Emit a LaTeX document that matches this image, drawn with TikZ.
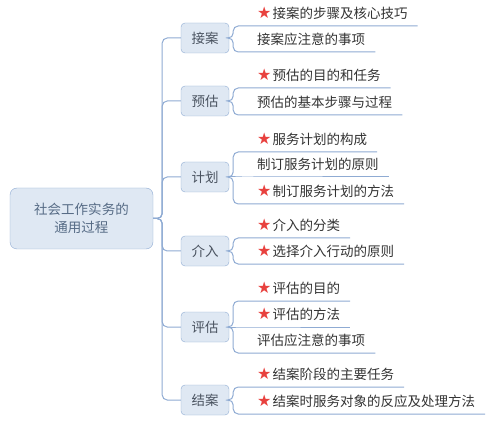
\documentclass[tikz,border=0pt]{standalone}
\usepackage{fontspec}
\setmainfont{Noto Sans CJK SC}
\newfontfamily\symfont{DejaVu Sans}
\usepackage{xcolor}
\usepackage{tikz}
\usetikzlibrary{positioning}
\definecolor{linkblue}{HTML}{8FABD3}
\definecolor{boxfill}{HTML}{DFE8F3}
\definecolor{boxtext}{HTML}{4A5360}
\definecolor{roottext}{HTML}{566B85}
\definecolor{leaftext}{HTML}{333333}
\definecolor{starred}{HTML}{E8413E}
\newcommand{\keystar}{{\symfont\fontsize{16}{18}\selectfont\color{starred}★}\hspace{1pt}}

\begin{document}
\begin{tikzpicture}[x=1pt,y=-1pt,
  topic/.style={rectangle,rounded corners=4pt,draw=linkblue,fill=boxfill,text=boxtext,minimum width=48pt,minimum height=30pt,inner sep=0pt},
  leaf/.style={anchor=south west,inner xsep=10pt,inner ysep=4pt,text height=11pt,text depth=3pt,text=leaftext},
  link/.style={draw=linkblue,line width=1pt,rounded corners=5pt},
  font=\fontsize{13.5}{18}\selectfont
]
\useasboundingbox (0,0) rectangle (490,422);
\node[topic,minimum width=143pt,minimum height=61pt,rounded corners=7pt,align=center,text=roottext] (root) at (81.5,218.5) {社会工作实务的\\通用过程};
\node[topic] (jiean) at (205,38) {接案};
\node[topic] (yugu) at (205,101) {预估};
\node[topic] (jihua) at (205,177) {计划};
\node[topic] (jieru) at (205,251) {介入};
\node[topic] (pinggu) at (205,327) {评估};
\node[topic] (jiean2) at (205,400) {结案};
\node[leaf] (jiean-a) at (247,26) {\keystar 接案的步骤及核心技巧};
\node[leaf] (jiean-b) at (247,52) {接案应注意的事项};
\node[leaf] (yugu-a) at (247,88) {\keystar 预估的目的和任务};
\node[leaf] (yugu-b) at (247,115) {预估的基本步骤与过程};
\node[leaf] (jihua-a) at (247,152) {\keystar 服务计划的构成};
\node[leaf] (jihua-b) at (247,177) {制订服务计划的原则};
\node[leaf] (jihua-c) at (247,204) {\keystar 制订服务计划的方法};
\node[leaf] (jieru-a) at (247,238) {\keystar 介入的分类};
\node[leaf] (jieru-b) at (247,264) {\keystar 选择介入行动的原则};
\node[leaf] (pinggu-a) at (247,301) {\keystar 评估的目的};
\node[leaf] (pinggu-b) at (247,327) {\keystar 评估的方法};
\node[leaf] (pinggu-c) at (247,353) {评估应注意的事项};
\node[leaf] (jiean2-a) at (247,387) {\keystar 结案阶段的主要任务};
\node[leaf] (jiean2-b) at (247,414) {\keystar 结案时服务对象的反应及处理方法};
\draw[link] (root.east) -- ++(9,0) |- (jiean.west);
\draw[link] (root.east) -- ++(9,0) |- (yugu.west);
\draw[link] (root.east) -- ++(9,0) |- (jihua.west);
\draw[link] (root.east) -- ++(9,0) |- (jieru.west);
\draw[link] (root.east) -- ++(9,0) |- (pinggu.west);
\draw[link] (root.east) -- ++(9,0) |- (jiean2.west);
\draw[link] (jiean.east) -- ++(4,0) |- (jiean-a.south west) -- (jiean-a.south east);
\draw[link] (jiean.east) -- ++(4,0) |- (jiean-b.south west) -- (jiean-b.south east);
\draw[link] (yugu.east) -- ++(4,0) |- (yugu-a.south west) -- (yugu-a.south east);
\draw[link] (yugu.east) -- ++(4,0) |- (yugu-b.south west) -- (yugu-b.south east);
\draw[link] (jihua.east) -- ++(4,0) |- (jihua-a.south west) -- (jihua-a.south east);
\draw[link] (jihua.east) -- (jihua-b.south west) -- (jihua-b.south east);
\draw[link] (jihua.east) -- ++(4,0) |- (jihua-c.south west) -- (jihua-c.south east);
\draw[link] (jieru.east) -- ++(4,0) |- (jieru-a.south west) -- (jieru-a.south east);
\draw[link] (jieru.east) -- ++(4,0) |- (jieru-b.south west) -- (jieru-b.south east);
\draw[link] (pinggu.east) -- ++(4,0) |- (pinggu-a.south west) -- (pinggu-a.south east);
\draw[link] (pinggu.east) -- (pinggu-b.south west) -- (pinggu-b.south east);
\draw[link] (pinggu.east) -- ++(4,0) |- (pinggu-c.south west) -- (pinggu-c.south east);
\draw[link] (jiean2.east) -- ++(4,0) |- (jiean2-a.south west) -- (jiean2-a.south east);
\draw[link] (jiean2.east) -- ++(4,0) |- (jiean2-b.south west) -- (jiean2-b.south east);
\end{tikzpicture}
\end{document}
